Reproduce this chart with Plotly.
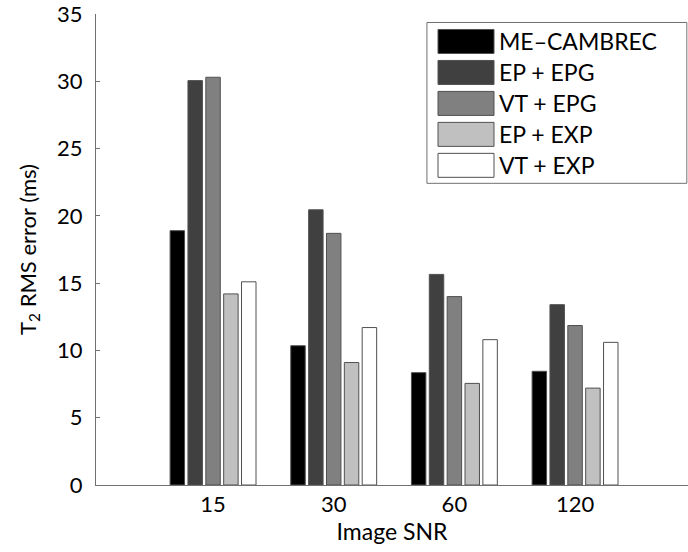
import plotly.graph_objects as go

categories = ["15", "30", "60", "120"]
series_names = ["ME\u2013CAMBREC", "EP + EPG", "VT + EPG", "EP + EXP", "VT + EXP"]
me_cambrec = [18.9, 10.35, 8.35, 8.45]
ep_epg = [30.05, 20.45, 15.65, 13.4]
vt_epg = [30.3, 18.7, 14.0, 11.85]
ep_exp = [14.2, 9.1, 7.55, 7.2]
vt_exp = [15.1, 11.7, 10.8, 10.6]
series_values = [me_cambrec, ep_epg, vt_epg, ep_exp, vt_exp]
colors = ["#000000", "#404040", "#808080", "#c0c0c0", "#ffffff"]
y_ticks = [0, 5, 10, 15, 20, 25, 30, 35]

FONT = "Lato"
xpos = list(range(1, len(categories) + 1))

fig = go.Figure()
for name, vals, col in zip(series_names, series_values, colors):
    fig.add_trace(go.Bar(
        x=xpos, y=vals, name=name, marker_color=col,
        marker_line_color="#505050", marker_line_width=1,
        showlegend=False,
    ))

# custom legend (box with large patches)
L = dict(x0=0.559, x1=0.998, y0=0.6405, y1=0.982)
fig.add_shape(type="rect", xref="paper", yref="paper", x0=L["x0"], x1=L["x1"],
              y0=L["y0"], y1=L["y1"], line=dict(color="#707070", width=1),
              fillcolor="white", layer="above")
H = 471.5
W = 592
for i, (name, col) in enumerate(zip(series_names, colors)):
    cy = 485 - (41 + 31 * i)
    yc = cy / H
    fig.add_shape(type="rect", xref="paper", yref="paper",
                  x0=(438 - 96) / W, x1=(494 - 96) / W,
                  y0=yc - 12 / H, y1=yc + 12 / H,
                  line=dict(color="#505050", width=1), fillcolor=col, layer="above")
    fig.add_annotation(xref="paper", yref="paper", x=(497 - 96) / W, y=yc,
                       text=name, showarrow=False, xanchor="left", yanchor="middle",
                       font=dict(family=FONT, size=23, color="black"))

fig.update_layout(
    width=688, height=552,
    margin=dict(l=96, r=0, t=13.5, b=67),
    paper_bgcolor="white", plot_bgcolor="white",
    barmode="group", bargap=0.26, bargroupgap=0.19,
    font=dict(family=FONT, size=21, color="black"),
    xaxis=dict(range=[0.03, 4.936], tickvals=xpos, ticktext=categories,
               showline=True, linecolor="#707070", linewidth=1, ticks="",
               showgrid=False, zeroline=False,
               title=dict(text="Image SNR", font=dict(size=23), standoff=6),
               tickfont=dict(size=22)),
    yaxis=dict(range=[0, 35], tickvals=y_ticks, showline=True, linecolor="#707070",
               linewidth=1, ticks="inside", ticklen=4, tickcolor="#707070",
               showgrid=False, zeroline=False, ticklabelstandoff=8,
               ticklabeloverflow="allow",
               title=dict(text="T<sub>2</sub> RMS error (ms)", font=dict(size=22), standoff=14),
               tickfont=dict(size=22)),
)

fig.write_html("out.html")
